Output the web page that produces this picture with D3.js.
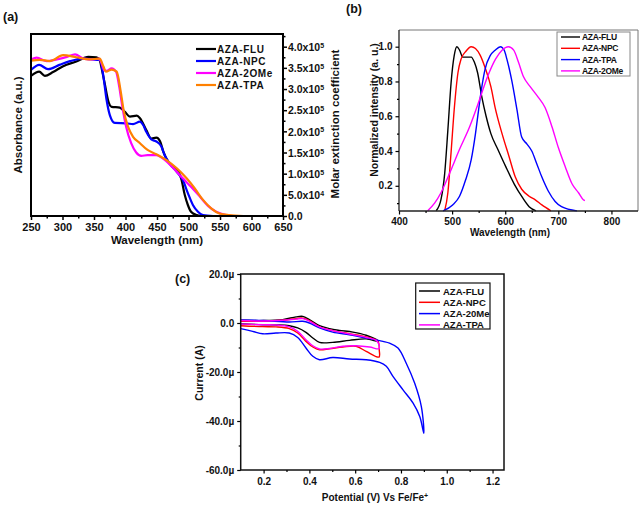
<!DOCTYPE html>
<html><head><meta charset="utf-8">
<script src="https://cdn.jsdelivr.net/npm/d3@7"></script>
<style>
body{margin:0;background:#fff}
svg text{font-family:"Liberation Sans",Arial,Helvetica,sans-serif;font-weight:bold;fill:#111}
</style>
</head><body>
<svg id="fig" width="640" height="505"></svg>
<script>
// ---------------- DATA ----------------
// Panel (a): UV-vis absorption, wavelength (nm) vs molar extinction (x1e5)
const seriesNamesA = ["AZA-FLU","AZA-NPC","AZA-2OMe","AZA-TPA"];
const absFLU = [[250,3.31],[263,3.41],[272,3.31],[285,3.40],[301,3.54],[322,3.65],[341,3.76],[354,3.75],[359,3.69],[361,3.57],[367,3.13],[373,2.70],[378,2.58],[391,2.56],[399,2.46],[407,2.35],[418,2.37],[423,2.31],[433,2.03],[441,1.83],[449,1.85],[455,1.76],[460,1.52],[468,1.28],[476,1.17],[484,1.05],[489,0.85],[494,0.50],[499,0.26],[504,0.10],[513,0.02],[520,0]];
const absNPC = [[250,3.45],[263,3.57],[277,3.47],[295,3.57],[312,3.66],[333,3.72],[355,3.69],[359,3.70],[365,3.29],[370,2.74],[375,2.39],[383,2.20],[402,2.19],[412,2.17],[423,2.23],[428,2.15],[433,1.99],[441,1.81],[449,1.76],[457,1.64],[462,1.44],[470,1.24],[481,1.05],[491,0.85],[499,0.54],[507,0.26],[515,0.10],[523,0.02],[539,0]];
const absOMe = [[250,3.70],[259,3.74],[275,3.66],[291,3.70],[307,3.76],[320,3.82],[333,3.72],[349,3.70],[358,3.72],[362,3.61],[366,3.45],[370,3.43],[378,3.49],[385,3.41],[390,3.06],[395,2.58],[401,2.11],[409,1.72],[417,1.50],[425,1.42],[435,1.44],[449,1.44],[459,1.36],[476,1.13],[491,0.89],[504,0.69],[518,0.46],[531,0.24],[544,0.10],[560,0.02],[571,0]];
const absTPA = [[250,3.67],[264,3.69],[280,3.66],[301,3.80],[322,3.75],[343,3.70],[359,3.72],[365,3.53],[369,3.41],[378,3.46],[386,3.41],[392,2.98],[397,2.50],[404,2.11],[412,1.87],[423,1.72],[435,1.56],[449,1.46],[465,1.32],[481,1.13],[497,0.89],[510,0.65],[523,0.38],[536,0.18],[549,0.06],[565,0.02],[587,0]];
const ticksAX = [250,300,350,400,450,500,550,600,650];
const ticksAY = [0,0.5,1,1.5,2,2.5,3,3.5,4];
const ticksAYMant = ["0.0","5.0x10","1.0x10","1.5x10","2.0x10","2.5x10","3.0x10","3.5x10","4.0x10"];
const ticksAYExp  = ["","4","5","5","5","5","5","5","5"];

// Panel (b): normalized PL
const seriesNamesB = ["AZA-FLU","AZA-NPC","AZA-TPA","AZA-2OMe"];
const plFLU = [[470,0.056],[479,0.12],[486,0.27],[492,0.52],[498,0.79],[504,0.95],[509,1.0],[514,0.98],[520,0.94],[529,0.94],[536,0.94],[542,0.91],[548,0.85],[556,0.71],[564,0.60],[573,0.50],[586,0.41],[601,0.31],[617,0.21],[633,0.13],[645,0.08],[658,0.056]];
const plNPC = [[486,0.056],[492,0.16],[498,0.39],[504,0.64],[511,0.85],[517,0.93],[525,0.97],[536,1.0],[544,0.99],[553,0.95],[562,0.88],[573,0.77],[581,0.65],[594,0.50],[607,0.37],[619,0.25],[631,0.18],[645,0.14],[656,0.12],[669,0.09],[686,0.056]];
const plTPA = [[483,0.056],[501,0.09],[514,0.14],[525,0.23],[536,0.35],[544,0.50],[550,0.64],[556,0.77],[562,0.87],[572,0.95],[581,0.98],[591,1.0],[598,0.98],[603,0.93],[612,0.81],[622,0.64],[631,0.48],[641,0.44],[650,0.40],[659,0.33],[669,0.25],[681,0.17],[694,0.11],[706,0.08],[735,0.056]];
const plOMe = [[454,0.056],[467,0.10],[479,0.16],[495,0.27],[514,0.41],[533,0.54],[551,0.69],[567,0.83],[582,0.93],[594,0.98],[606,1.0],[616,0.98],[625,0.91],[634,0.83],[647,0.77],[662,0.71],[675,0.65],[688,0.54],[700,0.42],[713,0.31],[726,0.21],[738,0.16],[747,0.12],[750,0.115]];
const ticksBX = [400,500,600,700,800];
const ticksBY = [0.2,0.4,0.6,0.8,1.0];

// Panel (c): cyclic voltammetry, potential (V) vs current (µA)
const seriesNamesC = ["AZA-FLU","AZA-NPC","AZA-20Me","AZA-TPA"];
const cvFLU = [[0.1,1.1],[0.2,1.0],[0.283,1.4],[0.342,2.5],[0.371,2.7],[0.4,1.4],[0.444,-1.1],[0.488,-2.3],[0.531,-3.0],[0.59,-3.7],[0.648,-5.0],[0.699,-7.2],[0.7,-7.5],[0.648,-6.5],[0.575,-7.1],[0.502,-7.9],[0.444,-7.9],[0.415,-6.1],[0.385,-3.8],[0.349,-2.0],[0.312,-1.1],[0.254,-0.8],[0.196,-0.7],[0.1,-0.3]];
const cvNPC = [[0.1,0.7],[0.2,0.7],[0.283,1.1],[0.342,1.8],[0.371,2.0],[0.4,1.0],[0.444,-1.6],[0.502,-3.1],[0.575,-4.4],[0.648,-5.7],[0.7,-7.5],[0.705,-10.9],[0.704,-13.9],[0.648,-11.6],[0.604,-9.5],[0.546,-9.8],[0.488,-10.5],[0.444,-10.9],[0.415,-9.8],[0.385,-7.5],[0.349,-4.1],[0.312,-2.3],[0.254,-1.6],[0.196,-1.5],[0.1,-1.1]];
const cvOMe = [[0.1,1.2],[0.2,1.0],[0.312,0.4],[0.371,0.7],[0.4,0],[0.444,-2.0],[0.502,-3.7],[0.575,-4.8],[0.648,-6.1],[0.721,-7.5],[0.75,-8.2],[0.787,-10.2],[0.823,-16.4],[0.86,-24.6],[0.889,-34.1],[0.9,-45.0],[0.882,-38.2],[0.853,-32.7],[0.809,-27.3],[0.765,-21.8],[0.736,-17.7],[0.707,-16.1],[0.648,-15.0],[0.575,-14.7],[0.502,-14.1],[0.444,-15.0],[0.415,-13.6],[0.385,-10.2],[0.349,-5.9],[0.312,-4.1],[0.254,-4.1],[0.196,-4.4],[0.152,-3.4],[0.1,-2.3]];
const cvTPA = [[0.1,1.0],[0.2,0.8],[0.283,1.1],[0.342,1.6],[0.371,1.8],[0.4,0.8],[0.444,-1.6],[0.502,-3.1],[0.575,-4.5],[0.648,-5.9],[0.692,-7.1],[0.704,-8.9],[0.704,-10.5],[0.663,-9.8],[0.604,-9.3],[0.546,-9.5],[0.488,-10.4],[0.444,-10.6],[0.415,-9.3],[0.385,-6.8],[0.349,-3.4],[0.312,-1.6],[0.254,-0.8],[0.196,-0.7],[0.1,-0.4]];
const ticksCX = [0.2,0.4,0.6,0.8,1.0,1.2];
const ticksCY = [-60,-40,-20,0,20];
const ticksCYLabels = ["-60.0µ","-40.0µ","-20.0µ","0.0","20.0µ"];

// ---------------- DRAW ----------------
const svg = d3.select("#fig");

function styleAxis(g, w, col){
  g.select(".domain").remove();
  g.selectAll(".tick line").attr("stroke", col||"#000").attr("stroke-width", w||1);
  g.selectAll(".tick text").attr("fill", "#111");
}
function minorTicks(g, axisFn, scale, vals, size, w){
  const a = axisFn(scale).tickValues(vals).tickSize(size).tickFormat("");
  g.call(a); g.select(".domain").remove();
  g.selectAll(".tick line").attr("stroke","#000").attr("stroke-width", w||1);
}

// ===== Panel (a) =====
{
  const x = d3.scaleLinear().domain([250,650]).range([31,283]);
  const y = d3.scaleLinear().domain([0,4.3]).range([216,34]);
  const colors = ["#000000","#0000ff","#ff00ff","#ff8000"];
  const data = [absFLU, absNPC, absOMe, absTPA];
  const line = d3.line().x(d=>x(d[0])).y(d=>y(d[1])).curve(d3.curveMonotoneX);
  const clip = svg.append("clipPath").attr("id","clipA").append("rect")
    .attr("x",31).attr("y",34).attr("width",252).attr("height",182);
  const gl = svg.append("g").attr("clip-path","url(#clipA)");
  data.forEach((d,i)=>gl.append("path").attr("d",line(d)).attr("fill","none")
     .attr("stroke",colors[i]).attr("stroke-width",2.2).attr("stroke-linejoin","round"));
  // frame
  svg.append("rect").attr("x",31).attr("y",34).attr("width",252).attr("height",182)
    .attr("fill","none").attr("stroke","#000").attr("stroke-width",2);
  // bottom axis
  const gx = svg.append("g").attr("transform","translate(0,216)")
    .call(d3.axisBottom(x).tickValues(ticksAX).tickSize(4).tickPadding(3).tickFormat(d3.format("d")));
  styleAxis(gx,1.5);
  gx.selectAll(".tick text").attr("font-size","11px");
  minorTicks(svg.append("g").attr("transform","translate(0,216)"), d3.axisBottom, x, d3.range(275,650,50), 2.5, 1.5);
  // right axis
  const gy = svg.append("g").attr("transform","translate(283,0)")
    .call(d3.axisRight(y).tickValues(ticksAY).tickSize(4).tickPadding(2).tickFormat(""));
  styleAxis(gy,1.5);
  gy.selectAll(".tick").each(function(d,i){
    const t = d3.select(this).select("text").attr("font-size","10.5px").attr("dy","0.35em").attr("x",5);
    t.text(null);
    t.append("tspan").text(ticksAYMant[i]);
    if(ticksAYExp[i]) t.append("tspan").attr("font-size","7px").attr("dy","-0.45em").text(ticksAYExp[i]);
  });
  minorTicks(svg.append("g").attr("transform","translate(283,0)"), d3.axisRight, y, d3.range(0.25,4.3,0.5), 2.5, 1.5);
  // labels
  svg.append("text").attr("x",157).attr("y",244).attr("text-anchor","middle").attr("font-size","11.5px").text("Wavelength (nm)");
  svg.append("text").attr("transform","translate(22,125) rotate(-90)").attr("text-anchor","middle").attr("font-size","11.5px").text("Absorbance (a.u.)");
  svg.append("text").attr("transform","translate(339,124) rotate(-90)").attr("text-anchor","middle").attr("font-size","11.5px").text("Molar extinction coefficient");
  svg.append("text").attr("x",3).attr("y",21).attr("font-size","12.5px").text("(a)");
  // legend
  seriesNamesA.forEach((n,i)=>{
    const yy = 49 + i*12;
    svg.append("line").attr("x1",196).attr("x2",216).attr("y1",yy).attr("y2",yy).attr("stroke",colors[i]).attr("stroke-width",2.2);
    svg.append("text").attr("x",217).attr("y",yy+3.5).attr("font-size","10px").attr("letter-spacing","0.6px").text(n);
  });
}

// ===== Panel (b) =====
{
  const x = d3.scaleLinear().domain([400,850]).range([399,638]);
  const y = d3.scaleLinear().domain([0.055,1.096]).range([211,30]);
  const colors = ["#000000","#ff0000","#0000ff","#ff00ff"];
  const data = [plFLU, plNPC, plTPA, plOMe];
  const line = d3.line().x(d=>x(d[0])).y(d=>y(d[1])).curve(d3.curveMonotoneX);
  data.forEach((d,i)=>svg.append("path").attr("d",line(d)).attr("fill","none")
     .attr("stroke",colors[i]).attr("stroke-width",1.4));
  // frame
  svg.append("line").attr("x1",399).attr("x2",638).attr("y1",30).attr("y2",30).attr("stroke","#777").attr("stroke-width",1);
  svg.append("line").attr("x1",638).attr("x2",638).attr("y1",30).attr("y2",211).attr("stroke","#777").attr("stroke-width",1);
  svg.append("line").attr("x1",399).attr("x2",638).attr("y1",211).attr("y2",211).attr("stroke","#222").attr("stroke-width",1.3);
  svg.append("line").attr("x1",399).attr("x2",399).attr("y1",30).attr("y2",211).attr("stroke","#222").attr("stroke-width",1.3);
  const gx = svg.append("g").attr("transform","translate(0,211)")
    .call(d3.axisBottom(x).tickValues(ticksBX).tickSize(3.5).tickPadding(3).tickFormat(d3.format("d")));
  styleAxis(gx,1.2);
  gx.selectAll(".tick text").attr("font-size","10px");
  minorTicks(svg.append("g").attr("transform","translate(0,211)"), d3.axisBottom, x, [450,550,650,750], 2, 1.2);
  const gy = svg.append("g").attr("transform","translate(399,0)")
    .call(d3.axisLeft(y).tickValues(ticksBY).tickSize(3.5).tickPadding(3).tickFormat(d3.format(".1f")));
  styleAxis(gy,1.2);
  gy.selectAll(".tick text").attr("font-size","10px");
  minorTicks(svg.append("g").attr("transform","translate(399,0)"), d3.axisLeft, y, [0.1,0.3,0.5,0.7,0.9], 2, 1.2);
  svg.append("text").attr("x",510).attr("y",236).attr("text-anchor","middle").attr("font-size","10px").text("Wavelength (nm)");
  svg.append("text").attr("transform","translate(378,110) rotate(-90)").attr("text-anchor","middle").attr("font-size","10.5px").text("Normalized intensity (a. u.)");
  svg.append("text").attr("x",346).attr("y",13).attr("font-size","12.5px").text("(b)");
  // legend
  svg.append("rect").attr("x",557).attr("y",32).attr("width",73).attr("height",44).attr("fill","#fff").attr("stroke","#888").attr("stroke-width",1);
  seriesNamesB.forEach((n,i)=>{
    const yy = 37 + i*11.3;
    svg.append("line").attr("x1",561).attr("x2",580).attr("y1",yy).attr("y2",yy).attr("stroke",colors[i]).attr("stroke-width",1.4);
    svg.append("text").attr("x",582).attr("y",yy+3).attr("font-size","8.5px").attr("letter-spacing","-0.3px").text(n);
  });
}

// ===== Panel (c) =====
{
  const x = d3.scaleLinear().domain([0.1,1.25]).range([240.7,504]);
  const y = d3.scaleLinear().domain([-60,20]).range([470,274]);
  const colors = ["#000000","#ff0000","#0000ff","#ff00ff"];
  const data = [cvFLU, cvNPC, cvOMe, cvTPA];
  const line = d3.line().x(d=>x(d[0])).y(d=>y(d[1])).curve(d3.curveCatmullRom.alpha(0.5));
  data.forEach((d,i)=>svg.append("path").attr("d",line(d)).attr("fill","none")
     .attr("stroke",colors[i]).attr("stroke-width",1.4).attr("stroke-linejoin","round"));
  svg.append("rect").attr("x",240.7).attr("y",274).attr("width",263.3).attr("height",196)
    .attr("fill","none").attr("stroke","#111").attr("stroke-width",1.5);
  const gx = svg.append("g").attr("transform","translate(0,470)")
    .call(d3.axisBottom(x).tickValues(ticksCX).tickSize(3.5).tickPadding(4).tickFormat(d3.format(".1f")));
  styleAxis(gx,1.2);
  gx.selectAll(".tick text").attr("font-size","10px").attr("fill","#333");
  minorTicks(svg.append("g").attr("transform","translate(0,470)"), d3.axisBottom, x, [0.3,0.5,0.7,0.9,1.1], 2, 1.2);
  const gy = svg.append("g").attr("transform","translate(240.7,0)")
    .call(d3.axisLeft(y).tickValues(ticksCY).tickSize(3.5).tickPadding(3).tickFormat((d,i)=>ticksCYLabels[i]));
  styleAxis(gy,1.2);
  gy.selectAll(".tick text").attr("font-size","10px").attr("fill","#333");
  minorTicks(svg.append("g").attr("transform","translate(240.7,0)"), d3.axisLeft, y, [-50,-30,-10,10], 2, 1.2);
  const xl = svg.append("text").attr("x",375).attr("y",501).attr("text-anchor","middle").attr("font-size","10px").attr("fill","#333");
  xl.append("tspan").text("Potential (V) Vs Fe/Fe");
  xl.append("tspan").attr("font-size","7px").attr("dy","-0.5em").text("+");
  svg.append("text").attr("transform","translate(203,373) rotate(-90)").attr("text-anchor","middle").attr("font-size","10.5px").text("Current (A)");
  svg.append("text").attr("x",175).attr("y",283).attr("font-size","12.5px").text("(c)");
  svg.append("rect").attr("x",415.7).attr("y",283).attr("width",74.3).attr("height",46).attr("fill","#fff").attr("stroke","#111").attr("stroke-width",1.2);
  seriesNamesC.forEach((n,i)=>{
    const yy = 291 + i*11.3;
    svg.append("line").attr("x1",419).attr("x2",440).attr("y1",yy).attr("y2",yy).attr("stroke",colors[i]).attr("stroke-width",1.5);
    svg.append("text").attr("x",443).attr("y",yy+3.5).attr("font-size","9.5px").attr("fill","#333").text(n);
  });
}
</script>
</body></html>
